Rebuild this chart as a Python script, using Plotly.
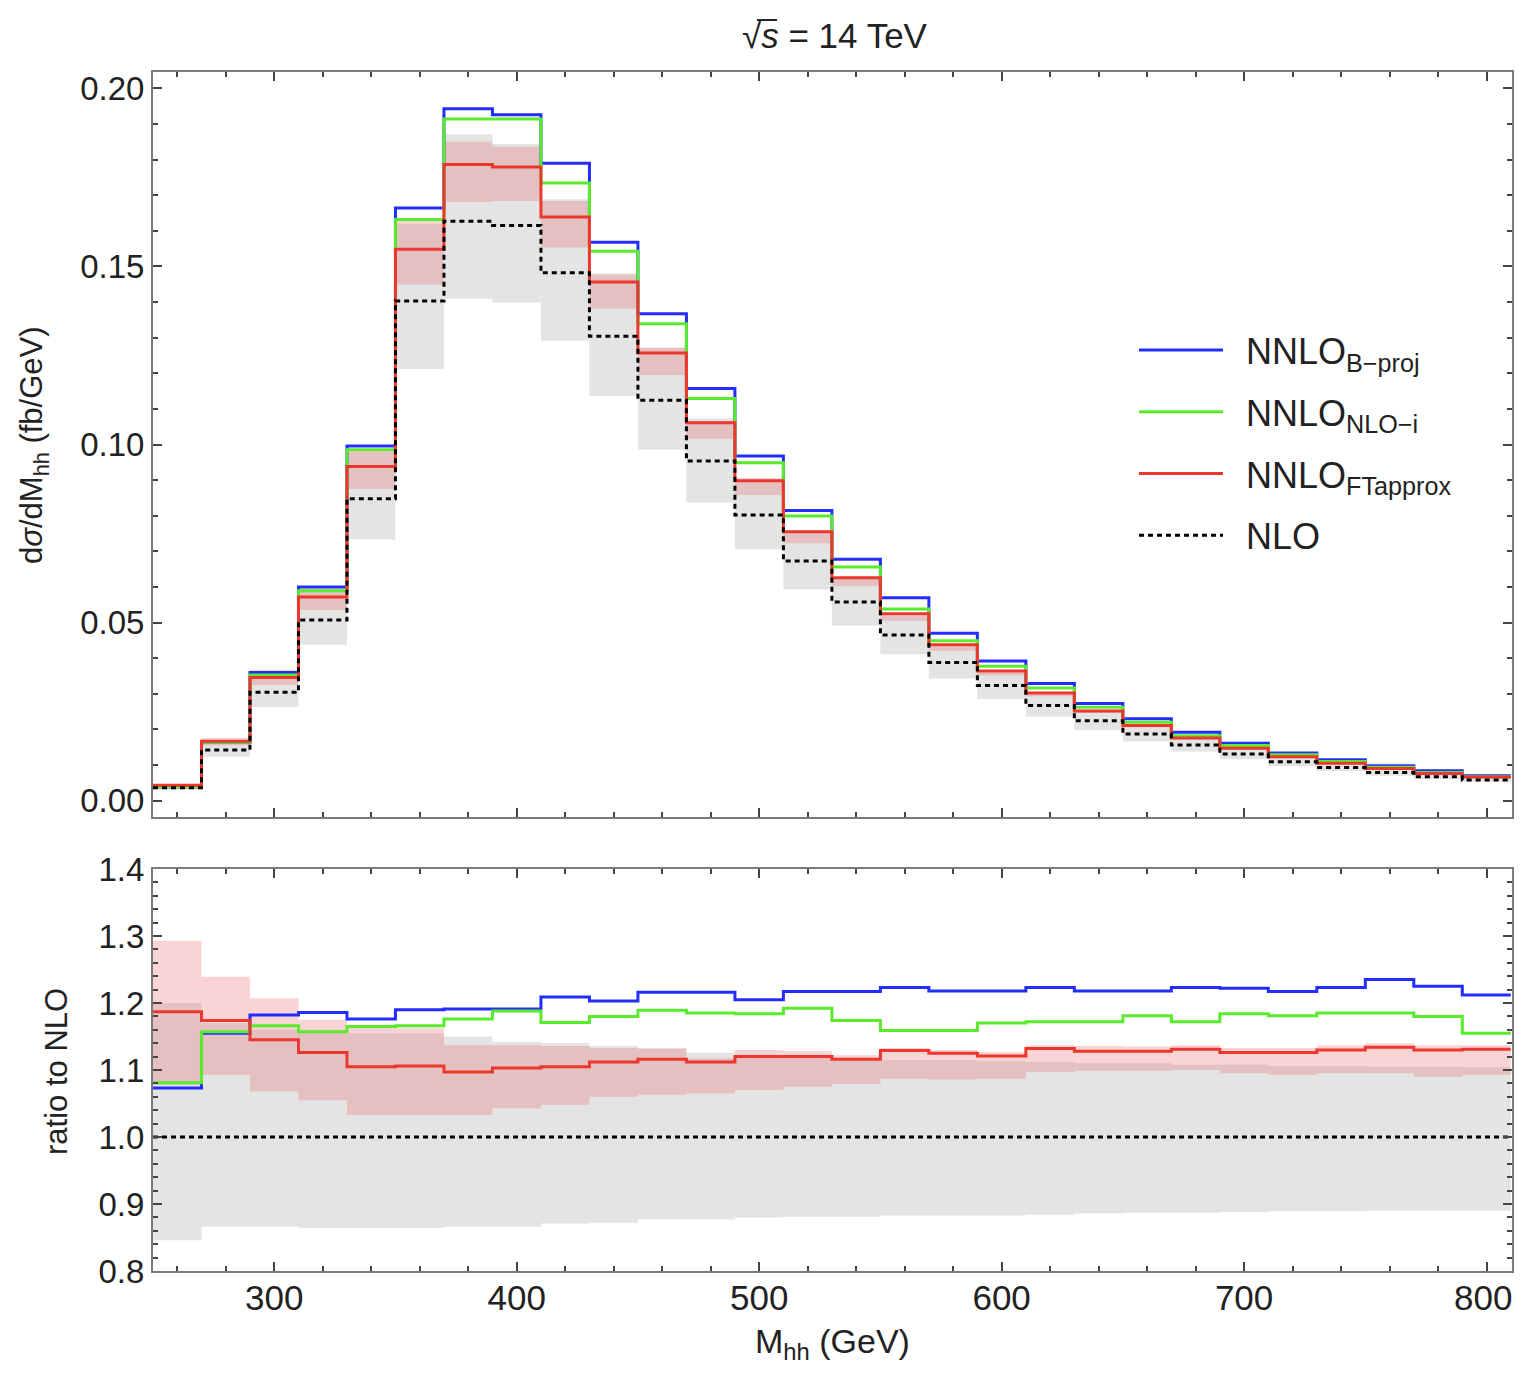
import plotly.graph_objects as go

# ---------------- data ----------------
bin_edges = [250, 270, 290, 310, 330, 350, 370, 390, 410, 430, 450, 470, 490, 510, 530,
             550, 570, 590, 610, 630, 650, 670, 690, 710, 730, 750, 770, 790, 810]
x_tick_vals = [300, 400, 500, 600, 700]
x_edge_tick_label = "800"

# upper panel: dsigma/dMhh (fb/GeV)
nnlo_bproj = [0.0039, 0.0164, 0.0360, 0.0600, 0.0996, 0.1664, 0.1943, 0.1926, 0.1790, 0.1568,
              0.1367, 0.1157, 0.0968, 0.0815, 0.0678, 0.0570, 0.0470, 0.0392, 0.0329, 0.0273,
              0.0230, 0.0192, 0.0161, 0.0134, 0.0115, 0.0098, 0.0084, 0.0070]
nnlo_nloi = [0.0039, 0.0164, 0.0353, 0.0589, 0.0985, 0.1632, 0.1914, 0.1914, 0.1734, 0.1543,
             0.1339, 0.1129, 0.0949, 0.0799, 0.0656, 0.0538, 0.0449, 0.0377, 0.0316, 0.0262,
             0.0220, 0.0182, 0.0155, 0.0129, 0.0110, 0.0094, 0.0079, 0.0067]
nnlo_ftapprox = [0.0043, 0.0167, 0.0346, 0.0572, 0.0938, 0.1548, 0.1786, 0.1779, 0.1639, 0.1456,
                 0.1257, 0.1061, 0.0898, 0.0755, 0.0626, 0.0525, 0.0438, 0.0364, 0.0302, 0.0252,
                 0.0211, 0.0176, 0.0147, 0.0123, 0.0105, 0.0090, 0.0076, 0.0066]
nlo = [0.0036, 0.0142, 0.0304, 0.0507, 0.0848, 0.1403, 0.1627, 0.1615, 0.1482, 0.1304,
       0.1124, 0.0954, 0.0802, 0.0673, 0.0558, 0.0465, 0.0388, 0.0323, 0.0267, 0.0224,
       0.0187, 0.0156, 0.0131, 0.0109, 0.0093, 0.0079, 0.0067, 0.0058]
nlo_band_lo = [0.0030, 0.0123, 0.0263, 0.0438, 0.0733, 0.1212, 0.1409, 0.1399, 0.1291, 0.1137,
               0.0986, 0.0837, 0.0706, 0.0593, 0.0492, 0.0411, 0.0343, 0.0285, 0.0236, 0.0198,
               0.0166, 0.0138, 0.0116, 0.0097, 0.0083, 0.0070, 0.0060, 0.0052]
nlo_band_hi = [0.0043, 0.0166, 0.0353, 0.0588, 0.0979, 0.1620, 0.1871, 0.1844, 0.1689, 0.1481,
               0.1272, 0.1074, 0.0898, 0.0754, 0.0624, 0.0518, 0.0433, 0.0359, 0.0297, 0.0249,
               0.0208, 0.0173, 0.0145, 0.0121, 0.0103, 0.0087, 0.0074, 0.0064]
ft_band_lo = [0.0039, 0.0155, 0.0325, 0.0535, 0.0876, 0.1449, 0.1681, 0.1684, 0.1553, 0.1382,
              0.1195, 0.1016, 0.0858, 0.0723, 0.0602, 0.0505, 0.0421, 0.0351, 0.0293, 0.0246,
              0.0206, 0.0172, 0.0143, 0.0119, 0.0102, 0.0087, 0.0073, 0.0063]
ft_band_hi = [0.0047, 0.0176, 0.0367, 0.0596, 0.0986, 0.1632, 0.1850, 0.1836, 0.1684, 0.1477,
              0.1272, 0.1066, 0.0906, 0.0759, 0.0626, 0.0527, 0.0438, 0.0364, 0.0304, 0.0254,
              0.0212, 0.0177, 0.0148, 0.0123, 0.0106, 0.0090, 0.0076, 0.0066]

# lower panel: ratio to NLO
ratio_bproj = [1.073, 1.155, 1.182, 1.186, 1.176, 1.190, 1.191, 1.191, 1.209, 1.203,
               1.216, 1.216, 1.205, 1.217, 1.217, 1.223, 1.218, 1.218, 1.223, 1.218,
               1.218, 1.223, 1.222, 1.217, 1.223, 1.235, 1.225, 1.212]
ratio_nloi = [1.081, 1.157, 1.166, 1.157, 1.165, 1.166, 1.176, 1.188, 1.171, 1.180,
              1.189, 1.185, 1.184, 1.192, 1.174, 1.159, 1.159, 1.170, 1.172, 1.172,
              1.181, 1.172, 1.184, 1.181, 1.185, 1.185, 1.180, 1.155]
ratio_ftapprox = [1.187, 1.174, 1.145, 1.126, 1.105, 1.106, 1.097, 1.103, 1.105, 1.112,
                  1.116, 1.112, 1.120, 1.120, 1.116, 1.129, 1.125, 1.121, 1.132, 1.128,
                  1.128, 1.131, 1.126, 1.126, 1.130, 1.134, 1.130, 1.131]
ratio_nlo = [1.0] * 28
ratio_nlo_lo = [0.846, 0.866, 0.866, 0.864, 0.864, 0.864, 0.866, 0.866, 0.871, 0.872,
                0.877, 0.877, 0.880, 0.881, 0.881, 0.883, 0.883, 0.883, 0.884, 0.886,
                0.887, 0.887, 0.888, 0.889, 0.889, 0.890, 0.890, 0.890]
ratio_nlo_hi = [1.200, 1.170, 1.160, 1.160, 1.155, 1.155, 1.150, 1.142, 1.140, 1.136,
                1.132, 1.126, 1.120, 1.120, 1.118, 1.115, 1.115, 1.113, 1.112, 1.110,
                1.110, 1.108, 1.108, 1.106, 1.106, 1.105, 1.105, 1.104]
ratio_ft_lo = [1.078, 1.093, 1.068, 1.055, 1.033, 1.033, 1.033, 1.043, 1.048, 1.060,
               1.063, 1.065, 1.070, 1.075, 1.079, 1.087, 1.086, 1.087, 1.097, 1.099,
               1.099, 1.100, 1.095, 1.093, 1.095, 1.095, 1.090, 1.093]
ratio_ft_hi = [1.293, 1.239, 1.207, 1.175, 1.163, 1.163, 1.137, 1.137, 1.136, 1.133,
               1.132, 1.117, 1.130, 1.128, 1.122, 1.133, 1.130, 1.127, 1.137, 1.136,
               1.135, 1.137, 1.133, 1.133, 1.137, 1.140, 1.137, 1.137]

series_names = ["NNLO<sub>B\u2212proj</sub>", "NNLO<sub>NLO\u2212i</sub>",
                "NNLO<sub>FTapprox</sub>", "NLO"]

# ---------------- styling ----------------
W, H = 1506, 1356          # page body has an 8px margin
OFF = 8
FONT = "Liberation Sans, Arial, Helvetica, sans-serif"
C_BLUE = "rgb(35,45,255)"
C_GREEN = "rgb(90,235,45)"
C_RED = "rgb(235,55,45)"
C_GRAY_BAND = "rgb(228,228,228)"
C_PINK_BAND = "rgba(232,95,95,0.27)"
TXT = "#222"
LW = 3


def px(xr):
    return (xr - OFF) / W


def py(yr):
    return 1 - (yr - OFF) / H


def steps(vals):
    return list(vals) + [vals[-1]]


fig = go.Figure()


def add_band(lo, hi, color, xa, ya):
    fig.add_trace(go.Scatter(x=bin_edges, y=steps(lo), mode="lines", line=dict(width=0, shape="hv"),
                             showlegend=False, hoverinfo="skip", xaxis=xa, yaxis=ya))
    fig.add_trace(go.Scatter(x=bin_edges, y=steps(hi), mode="lines", line=dict(width=0, shape="hv"),
                             fill="tonexty", fillcolor=color, showlegend=False, hoverinfo="skip",
                             xaxis=xa, yaxis=ya))


add_band(nlo_band_lo, nlo_band_hi, C_GRAY_BAND, "x", "y")
add_band(ft_band_lo, ft_band_hi, C_PINK_BAND, "x", "y")
add_band(ratio_nlo_lo, ratio_nlo_hi, C_GRAY_BAND, "x2", "y2")
add_band(ratio_ft_lo, ratio_ft_hi, C_PINK_BAND, "x2", "y2")

top_series = [nnlo_bproj, nnlo_nloi, nnlo_ftapprox, nlo]
bot_series = [ratio_bproj, ratio_nloi, ratio_ftapprox, ratio_nlo]
styles = [dict(color=C_BLUE, width=LW), dict(color=C_GREEN, width=LW),
          dict(color=C_RED, width=LW), dict(color="black", width=LW, dash="5px,4px")]

for i, (name, vals, st) in enumerate(zip(series_names, top_series, styles)):
    fig.add_trace(go.Scatter(x=bin_edges, y=steps(vals), mode="lines", name="\u2002" + name,
                             line=dict(shape="hv", **st), legendgroup=f"g{i}",
                             xaxis="x", yaxis="y"))
for i, (vals, st) in enumerate(zip(bot_series, styles)):
    fig.add_trace(go.Scatter(x=bin_edges, y=steps(vals), mode="lines",
                             line=dict(shape="hv", **st), legendgroup=f"g{i}", showlegend=False,
                             xaxis="x2", yaxis="y2"))

xdom = [px(153), (W - 2) / W]
top_dom = [py(817), py(72)]
bot_dom = [py(1271), py(869)]

frame = dict(showline=True, linecolor="#7a7a7a", linewidth=2, mirror="ticks",
             ticks="inside", ticklen=9, tickwidth=1.5, tickcolor="#444",
             showgrid=False, zeroline=False, automargin=False)
minor_x = dict(dtick=20, tick0=0, ticks="inside", ticklen=5, tickcolor="#444")

fig.update_layout(
    width=W, height=H,
    margin=dict(l=0, r=0, t=0, b=0, autoexpand=False),
    paper_bgcolor="white", plot_bgcolor="white",
    font=dict(family=FONT, color=TXT, size=30),
    showlegend=True,
    legend=dict(x=px(1134), y=py(320), xanchor="left", yanchor="top",
                bgcolor="rgba(0,0,0,0)", font=dict(size=36, family=FONT, color=TXT),
                itemwidth=84, tracegroupgap=12),
    xaxis=dict(domain=xdom, anchor="y", range=[250, 810.5], tickvals=x_tick_vals + [800],
               showticklabels=False, minor=minor_x, **frame),
    yaxis=dict(domain=top_dom, anchor="x", range=[-0.0046, 0.2046], dtick=0.05, tick0=0,
               tickformat=".2f", tickfont=dict(size=33, color=TXT),
               minor=dict(dtick=0.01, ticks="inside", ticklen=5, tickcolor="#444"),
               **frame),
    xaxis2=dict(domain=xdom, anchor="y2", range=[250, 810.5], tickvals=x_tick_vals + [800],
                ticktext=[str(v) for v in x_tick_vals] + [""],
                tickfont=dict(size=35, color=TXT), ticklabelstandoff=-5,
                minor=minor_x, **frame),
    yaxis2=dict(domain=bot_dom, anchor="x2", range=[0.8, 1.4], dtick=0.1, tick0=0,
                tickformat=".1f", tickfont=dict(size=33, color=TXT),
                minor=dict(dtick=0.02, ticks="inside", ticklen=5, tickcolor="#444"),
                **frame),
)

annots = [
    dict(text="\u221a<i>s</i> = 14 TeV", x=px(835), y=py(36), size=35),
    dict(text="d<i>σ</i>/dM<sub>hh</sub> (fb/GeV)", x=px(34), y=py(445), size=31, textangle=-90),
    dict(text="ratio to NLO", x=px(56), y=py(1072), size=31, textangle=-90),
    dict(text="M<sub>hh</sub> (GeV)", x=px(833), y=py(1343), size=34),
    dict(text=x_edge_tick_label, x=1.0, y=py(1297), size=35, xanchor="right"),
]
for a in annots:
    fig.add_annotation(text=a["text"], x=a["x"], y=a["y"], xref="paper", yref="paper",
                       showarrow=False, textangle=a.get("textangle", 0),
                       xanchor=a.get("xanchor", "center"), yanchor="middle",
                       font=dict(size=a["size"], family=FONT, color=TXT))

# overline of the square root in the title
fig.add_shape(type="line", xref="paper", yref="paper",
              x0=px(757), x1=px(777), y0=py(20), y1=py(20),
              line=dict(color=TXT, width=2))

fig.write_html("out.html")
